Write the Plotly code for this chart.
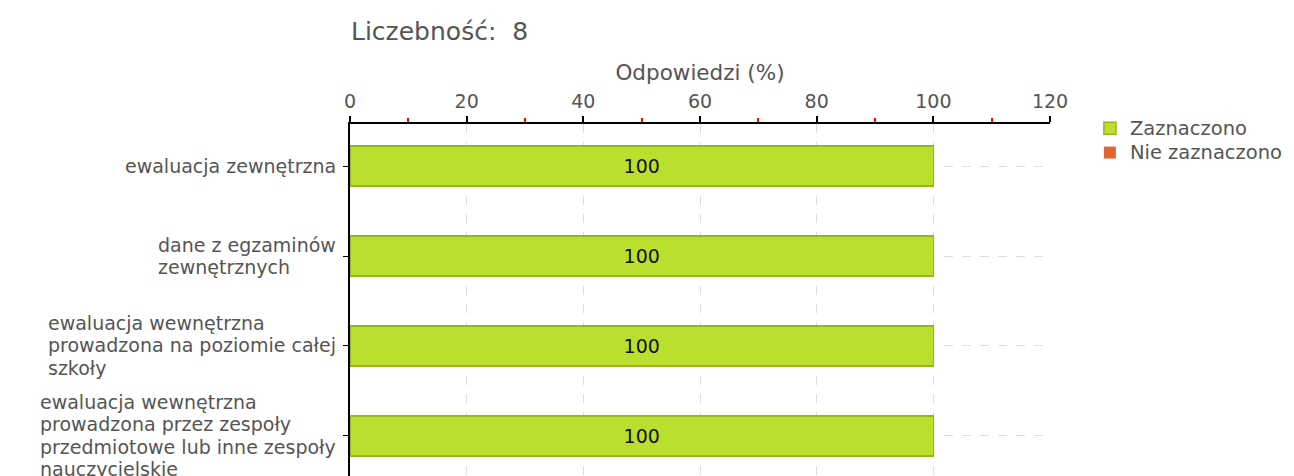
import plotly.graph_objects as go

categories = [
    "ewaluacja zewnętrzna",
    "dane z egzaminów<br>zewnętrznych",
    "ewaluacja wewnętrzna<br>prowadzona na poziomie całej<br>szkoły",
    "ewaluacja wewnętrzna<br>prowadzona przez zespoły<br>przedmiotowe lub inne zespoły<br>nauczycielskie",
]
zaznaczono = [100, 100, 100, 100]
nie_zaznaczono = [0, 0, 0, 0]
x_ticks = [0, 20, 40, 60, 80, 100, 120]
series_names = ["Zaznaczono", "Nie zaznaczono"]
title_text = "Liczebność:  8"
axis_title = "Odpowiedzi (%)"

FONT = "DejaVu Sans"
GREY = "#555555"


def big(s, px):
    return "<br>".join(f"<span style='font-size:{px}px'>{part}</span>" for part in s.split("<br>"))


ys = list(range(len(categories)))

fig = go.Figure()
fig.add_trace(go.Bar(
    y=ys, x=zaznaczono, orientation="h", name=big(series_names[0], 19.5),
    marker=dict(color="#bbdf2e", line=dict(color="#92b81a", width=1.5)),
    text=[str(v) for v in zaznaczono], textposition="inside", insidetextanchor="middle",
    textfont=dict(family=FONT, size=19, color="#111111"), width=0.44,
))
fig.add_trace(go.Bar(
    y=ys, x=nie_zaznaczono, orientation="h", name=big(series_names[1], 19.5),
    marker=dict(color="#e0652e", line=dict(width=0)), width=0.44,
))

for i, c in enumerate(categories):
    fig.add_annotation(
        x=0, xref="paper", xanchor="right", xshift=-12,
        y=i, yref="y", yanchor="middle",
        text=big(c, 19), align="left", showarrow=False,
        font=dict(family=FONT, size=17.2, color=GREY),
    )

# the page body has a default ~8px margin; compensate so the plot area lands at 349..1049 / 122..476
OFFX, OFFY = 7, 6
W, H = 1294, 476
fig.update_layout(
    width=W, height=H,
    margin=dict(l=349 - OFFX, r=W - (1049 - OFFX), t=122 - OFFY, b=OFFY, autoexpand=False),
    paper_bgcolor="white", plot_bgcolor="white",
    barmode="stack",
    title=dict(text=title_text, x=(350 - OFFX) / W, xanchor="left", xref="container",
               y=(H - (29 - OFFY)) / H, yanchor="middle",
               font=dict(family=FONT, size=25, color=GREY)),
    xaxis=dict(
        side="top", range=[0, 120], tickvals=x_ticks, ticktext=[str(t) for t in x_ticks],
        showline=True, linecolor="black", linewidth=2,
        ticks="outside", tickcolor="black", ticklen=6, tickwidth=1.5,
        tickfont=dict(family=FONT, size=19, color=GREY),
        title=dict(text=axis_title, font=dict(family=FONT, size=21.5, color=GREY), standoff=4),
        showgrid=True, gridcolor="#dddddd", griddash="dash", gridwidth=1,
        minor=dict(dtick=10, tick0=0, ticks="outside", tickcolor="red", ticklen=4, tickwidth=1.5, showgrid=False),
        zeroline=False, fixedrange=True, automargin=False,
    ),
    yaxis=dict(
        range=[3.467, -0.467], tickvals=ys, ticktext=[""] * len(categories),
        showline=True, linecolor="black", linewidth=2,
        ticks="outside", tickcolor="black", ticklen=5,
        showgrid=True, gridcolor="#dddddd", griddash="dash", gridwidth=1,
        zeroline=False, fixedrange=True, automargin=False,
    ),
    legend=dict(x=1.057, y=1.037, xanchor="left", yanchor="top", traceorder="normal",
                font=dict(family=FONT, size=16.5, color=GREY),
                itemwidth=30, tracegroupgap=0, bgcolor="rgba(0,0,0,0)", borderwidth=0),
    showlegend=True,
)

fig.write_html("out.html")
